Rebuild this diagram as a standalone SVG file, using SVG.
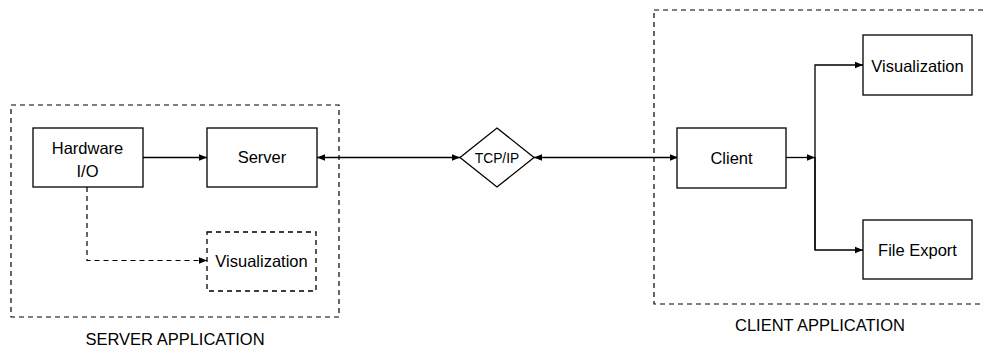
<svg xmlns="http://www.w3.org/2000/svg" width="983" height="349" viewBox="0 0 983 349">
<style>
.box{fill:#fff;stroke:#000;stroke-width:1.3}
.dbox{fill:#fff;stroke:#000;stroke-width:1.3;stroke-dasharray:5 4}
.grp{fill:none;stroke:#000;stroke-width:1.2;stroke-dasharray:5 4}
.t{font-family:"Liberation Sans",Arial,sans-serif;font-size:16.5px;fill:#000;text-anchor:middle}
.c{fill:none;stroke:#000;stroke-width:1.3}
.cd{fill:none;stroke:#000;stroke-width:1.2;stroke-dasharray:5 4}
</style>
<defs>
<marker id="ah" viewBox="0 0 10 10" refX="10" refY="5" markerWidth="8" markerHeight="8" markerUnits="userSpaceOnUse" orient="auto-start-reverse">
<path d="M0,1 L10,5 L0,9 Z" fill="#000"/>
</marker>
</defs>
<rect width="983" height="349" fill="#fff"/>
<g id="server-app">
<rect class="grp" x="11" y="105" width="328" height="212"/>
<text class="t" x="175" y="345">SERVER APPLICATION</text>
</g>
<g id="client-app">
<rect class="grp" x="654" y="10" width="340" height="294"/>
<text class="t" x="820" y="331">CLIENT APPLICATION</text>
</g>
<g id="connectors">
<path class="c" d="M143,157.5 H207" marker-end="url(#ah)"/>
<path class="c" d="M317,157.5 H460" marker-start="url(#ah)" marker-end="url(#ah)"/>
<path class="c" d="M534,157.5 H678" marker-start="url(#ah)" marker-end="url(#ah)"/>
<path class="c" d="M786,157.5 H815"  marker-end="url(#ah)"/>
<path class="c" d="M815,250 V65 H863" marker-end="url(#ah)"/>
<path class="c" d="M815,157 V250 H863" marker-end="url(#ah)"/>
<path class="cd" d="M87,187 V260.5 H207" marker-end="url(#ah)"/>
</g>
<g id="hardware">
<rect class="box" x="33" y="128" width="110" height="59"/>
<text class="t" x="87.5" y="154">Hardware</text>
<text class="t" x="87.5" y="177">I/O</text>
</g>
<g id="server">
<rect class="box" x="207" y="128" width="110" height="59"/>
<text class="t" x="262" y="163">Server</text>
</g>
<g id="server-vis">
<rect class="dbox" x="207" y="232" width="109" height="59"/>
<text class="t" x="261.5" y="267">Visualization</text>
</g>
<g id="tcpip">
<polygon class="box" points="497,128 534,157.5 497,187 460,157.5"/>
<text class="t" x="497" y="163" style="font-size:13.8px">TCP/IP</text>
</g>
<g id="client">
<rect class="box" x="677" y="128" width="109" height="60"/>
<text class="t" x="731.5" y="164">Client</text>
</g>
<g id="client-vis">
<rect class="box" x="863" y="35" width="109" height="60"/>
<text class="t" x="917.5" y="72">Visualization</text>
</g>
<g id="file-export">
<rect class="box" x="863" y="220" width="109" height="59"/>
<text class="t" x="917.5" y="256">File Export</text>
</g>
</svg>
